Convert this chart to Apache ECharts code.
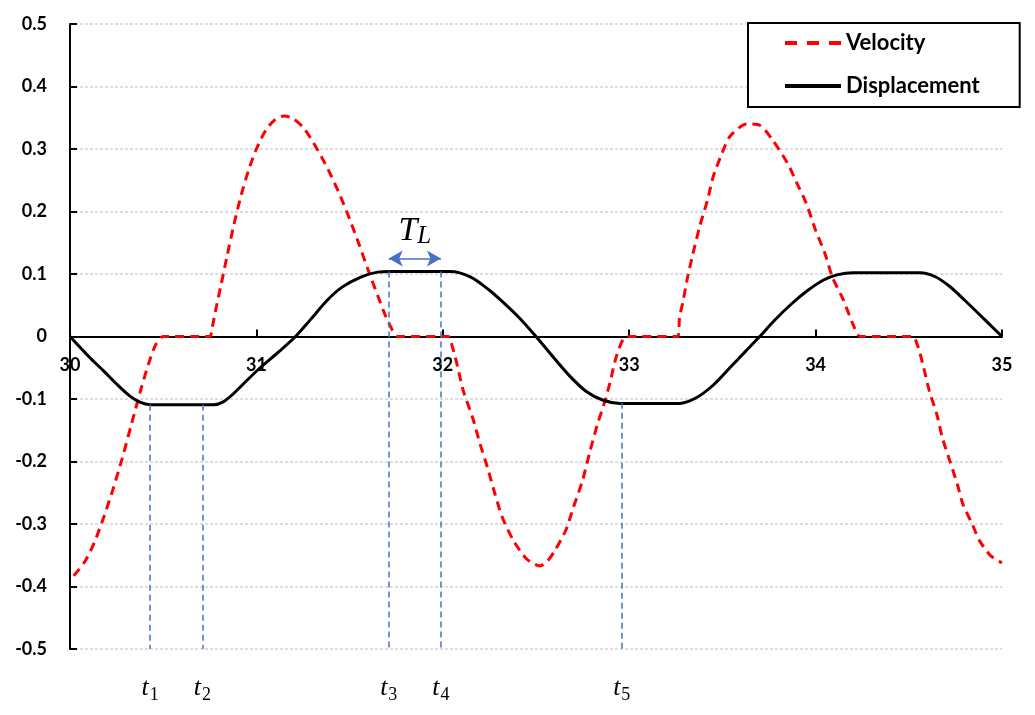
<!DOCTYPE html>
<html>
<head>
<meta charset="utf-8">
<script src="https://cdn.jsdelivr.net/npm/echarts@6/dist/echarts.min.js"></script>
<style>
html,body{margin:0;padding:0;background:#fff;}
#chart{width:1035px;height:715px;}
</style>
</head>
<body>
<div id="chart"></div>
<script>
// Velocity (red dashed)
var velX = [30.02,30.08,30.13,30.18,30.23,30.28,30.33,30.38,30.42,30.46,30.5,30.75,30.76,30.78,30.81,30.84,30.88,30.92,30.96,31.0,31.05,31.1,31.15,31.2,31.25,31.3,31.35,31.4,31.45,31.5,31.55,31.6,31.65,31.69,31.73,31.76,32.03,32.05,32.08,32.11,32.16,32.2,32.24,32.28,32.32,32.38,32.45,32.52,32.56,32.6,32.66,32.70,32.75,32.79,32.83,32.87,32.9,32.93,32.97,33.0,33.26,33.27,33.29,33.31,33.34,33.38,33.42,33.45,33.49,33.54,33.63,33.7,33.77,33.85,33.9,33.95,34.0,34.05,34.09,34.15,34.2,34.24,34.52,34.55,34.58,34.61,34.65,34.68,34.72,34.76,34.79,34.84,34.88,34.94,35.0];
var velY = [-0.383,-0.36,-0.33,-0.29,-0.245,-0.195,-0.14,-0.085,-0.045,-0.013,0,0,0.01,0.04,0.082,0.125,0.18,0.228,0.268,0.3,0.33,0.347,0.353,0.348,0.335,0.313,0.287,0.258,0.225,0.188,0.148,0.106,0.066,0.035,0.01,0,0,-0.015,-0.049,-0.087,-0.13,-0.172,-0.21,-0.252,-0.29,-0.327,-0.356,-0.367,-0.36,-0.343,-0.31,-0.274,-0.23,-0.183,-0.14,-0.103,-0.07,-0.033,-0.003,0,0,0.03,0.058,0.09,0.13,0.178,0.218,0.255,0.287,0.32,0.34,0.338,0.314,0.277,0.245,0.213,0.17,0.133,0.095,0.058,0.02,0,0,-0.017,-0.05,-0.087,-0.124,-0.162,-0.199,-0.236,-0.268,-0.30,-0.327,-0.351,-0.362];
// Displacement (black solid)
var dispX = [30,30.107,30.18,30.25,30.32,30.375,30.43,30.77,30.82,30.875,30.95,31.02,31.11,31.21,31.29,31.38,31.46,31.56,31.65,31.72,32.04,32.15,32.25,32.33,32.41,32.5,32.59,32.68,32.77,32.86,32.95,33.27,33.36,33.45,33.54,33.62,33.7,33.78,33.87,33.95,34.04,34.12,34.2,34.56,34.64,34.72,34.8,34.88,35.0];
var dispY = [0,-0.034,-0.055,-0.076,-0.095,-0.105,-0.109,-0.109,-0.105,-0.092,-0.07,-0.05,-0.027,0,0.027,0.058,0.079,0.095,0.103,0.104,0.104,0.095,0.074,0.053,0.03,0,-0.032,-0.063,-0.088,-0.102,-0.107,-0.107,-0.098,-0.078,-0.05,-0.025,0,0.026,0.052,0.072,0.09,0.099,0.102,0.102,0.096,0.08,0.058,0.035,0];
// X tick labels (drawn on the zero line)
var xTicks = [30,31,32,33,34,35];
// Marker times t1..t5 and the displacement value where each dashed guide starts
var markNames = ['1','2','3','4','5'];
var markX = [30.43,30.71,31.71,31.99,32.96];
var markTop = [-0.109,-0.109,0.104,0.104,-0.106];
var yBottom = -0.5;
// T_L arrow between t3 and t4
var tlY = 0.125;

function zip(a,b){return a.map(function(v,i){return [v,b[i]];});}

var guideLines = markX.map(function(x,i){
  return [{coord:[x,markTop[i]], symbol:'none'},
          {coord:[x,yBottom], symbol:'none',
           label:{show:true, position:'end', distance:24,
             formatter:'{t|t}{s|'+markNames[i]+'}',
             rich:{t:{fontFamily:'Liberation Serif',fontStyle:'italic',fontSize:26,color:'#000'},
                   s:{fontFamily:'Liberation Serif',fontSize:18,color:'#000',padding:[13,0,0,1]}}}}];
});
var tlLine = [{coord:[markX[2],tlY], symbol:'arrow', symbolSize:[12,14],
               lineStyle:{type:'solid',width:1.5,color:'#4472C4'}},
              {coord:[markX[3],tlY], symbol:'arrow', symbolSize:[12,14]}];

var tickPoints = xTicks.map(function(v){
  return {coord:[v,0], value:v,
    label:{show:true, position:'inside', offset:[0,29], formatter:String(v),
      fontFamily:'Lato', fontWeight:'bold', fontSize:18, color:'#000'}};
});

var chart = echarts.init(document.getElementById('chart'), null, {renderer:'canvas'});
chart.setOption({
  animation:false,
  backgroundColor:'#fff',
  grid:{left:70,right:33,top:24,bottom:66,containLabel:false},
  legend:{
    orient:'vertical', left:748, top:23,
    padding:[8,40,9,35], itemGap:19,
    itemWidth:56, itemHeight:14,
    borderColor:'#000', borderWidth:2, backgroundColor:'#fff',
    itemStyle:{opacity:0},
    lineStyle:{width:4},
    textStyle:{fontFamily:'Lato',fontWeight:'bold',fontSize:22,lineHeight:24,color:'#000'},
    data:[{name:'Velocity', lineStyle:{width:4, type:[12,10]}}, {name:'Displacement'}]
  },
  xAxis:{
    type:'value', min:30, max:35, interval:1,
    axisLine:{onZero:true, lineStyle:{color:'#000',width:2}},
    axisTick:{inside:true,length:7,lineStyle:{color:'#000',width:2}},
    axisLabel:{show:false},
    splitLine:{show:false}
  },
  yAxis:{
    type:'value', min:-0.5, max:0.5, interval:0.1,
    axisLine:{show:true,onZero:false,lineStyle:{color:'#000',width:2}},
    axisTick:{show:true,inside:true,length:7,lineStyle:{color:'#000',width:2}},
    axisLabel:{fontFamily:'Lato',fontWeight:'bold',fontSize:18,color:'#000',margin:23,
      formatter:function(v){return (Math.round(v*10)/10).toString();}},
    splitLine:{show:true,lineStyle:{color:'#d4d4d4',width:1.5,type:[3,2]}}
  },
  series:[
    {
      name:'Velocity', type:'line', data:zip(velX,velY),
      symbol:'none', smooth:0.25, z:3,
      lineStyle:{color:'#ff0000',width:3,type:[9,6]},
      itemStyle:{color:'#ff0000'}
    },
    {
      name:'Displacement', type:'line', data:zip(dispX,dispY),
      symbol:'none', smooth:0.3, z:4,
      lineStyle:{color:'#000',width:3,type:'solid'},
      itemStyle:{color:'#000'},
      markLine:{
        silent:true, animation:false, symbol:'none',
        lineStyle:{color:'#4472C4',width:1.5,type:[6,4]},
        label:{show:false},
        data: guideLines.concat([tlLine])
      }
    },
    {
      name:'Annotations', type:'line', data:[], symbol:'none',
      markPoint:{
        silent:true, symbol:'rect', symbolSize:1, itemStyle:{color:'rgba(0,0,0,0)'},
        data:[{coord:[(markX[2]+markX[3])/2, tlY],
          label:{show:true, position:'inside', offset:[0,-27],
            formatter:'{T|T}{L|L}',
            rich:{T:{fontFamily:'Liberation Serif',fontStyle:'italic',fontSize:34,color:'#000'},
                  L:{fontFamily:'Liberation Serif',fontStyle:'italic',fontSize:25,color:'#000',padding:[10,0,0,0]}}}}]
          .concat(tickPoints)
      }
    }
  ]
});
</script>
</body>
</html>
